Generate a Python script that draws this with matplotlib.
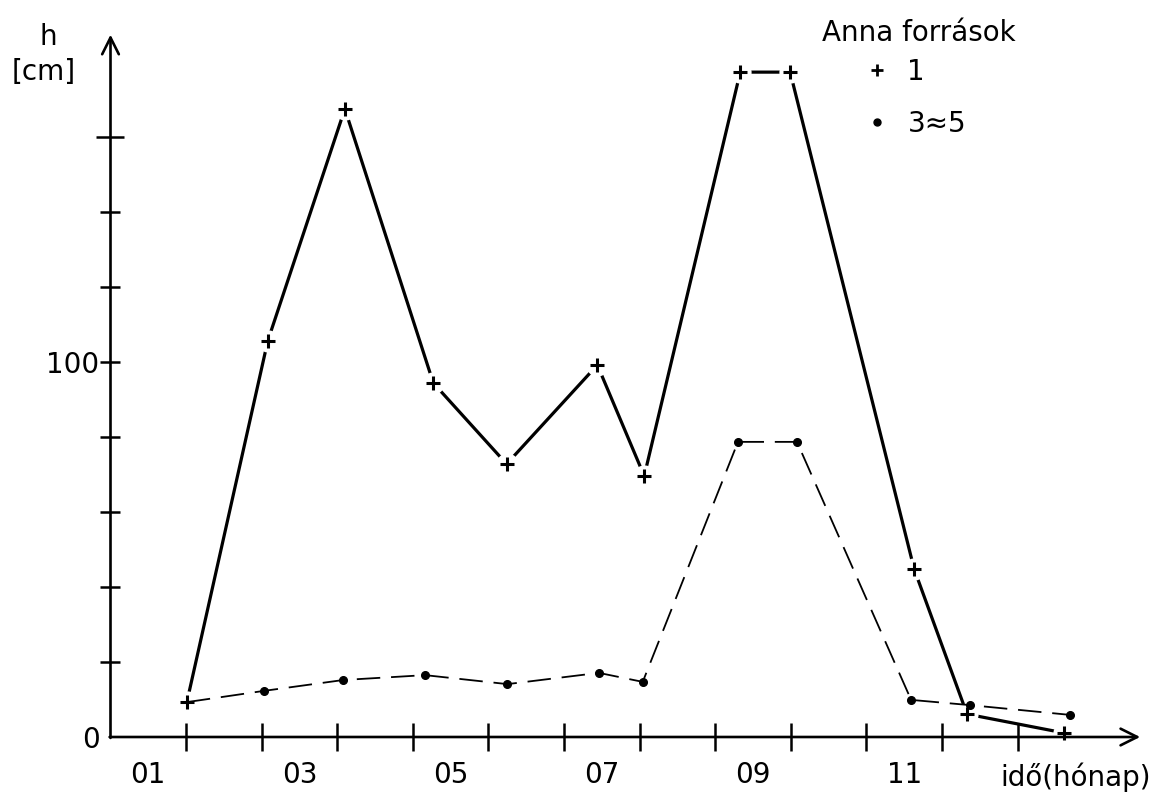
import matplotlib
matplotlib.use("Agg")
import matplotlib.pyplot as plt
from matplotlib.lines import Line2D

# ---- data ----
months_1 = [1.01, 2.08, 3.10, 4.27, 5.24, 6.44, 7.06, 8.33, 8.99, 10.63, 11.33, 12.61]
h_1 = [9.3, 105.6, 167.5, 94.4, 72.8, 99.2, 69.6, 177.3, 177.3, 44.8, 6.1, 1.1]
months_35 = [1.01, 2.03, 3.08, 4.16, 5.25, 6.46, 7.04, 8.30, 9.08, 10.59, 11.37, 12.69]
h_35 = [9.3, 12.3, 15.2, 16.5, 14.1, 17.1, 14.7, 78.7, 78.7, 9.9, 8.5, 5.9]

x_ticks = [1, 2, 3, 4, 5, 6, 7, 8, 9, 10, 11, 12]
x_label_pos = [0.5, 2.5, 4.5, 6.5, 8.5, 10.5]
x_labels = ["01", "03", "05", "07", "09", "11"]
y_ticks = [0, 20, 40, 60, 80, 100, 120, 140, 160]
y_labels = ["0", "", "", "", "", "100", "", "", ""]
series_labels = ["1", "3\u22485"]
legend_title = "Anna források"
x_title = "idő(hónap)"

plt.rcParams['font.family'] = ['DejaVu Sans']

W, H = 1175, 799
fig = plt.figure(figsize=(W / 100, H / 100), dpi=100)
ax = fig.add_axes([0, 0, 1, 1])
ax.patch.set_alpha(0)

x0px, sx = 110.5, 75.6
y0px, sy = 737.0, 3.75
ax.set_xlim(-x0px / sx, (W - x0px) / sx)
ax.set_ylim(-(H - y0px) / sy, y0px / sy)

x_end = 13.62
y_end = 187.3

for s in ["top", "right"]:
    ax.spines[s].set_visible(False)
ax.spines["left"].set_position(("data", 0))
ax.spines["bottom"].set_position(("data", 0))
for s in ["left", "bottom"]:
    ax.spines[s].set_linewidth(0)

# axis lines with arrowheads
ax.annotate("", xy=(0, y_end), xytext=(0, -0.25),
            arrowprops=dict(arrowstyle="->", lw=1.9, color="black", mutation_scale=30,
                            shrinkA=0, shrinkB=0), zorder=5)
ax.annotate("", xy=(x_end, 0), xytext=(-0.012, 0),
            arrowprops=dict(arrowstyle="->", lw=1.9, color="black", mutation_scale=30,
                            shrinkA=0, shrinkB=0), zorder=5)

# y ticks
ax.set_yticks(y_ticks)
ax.set_yticklabels(y_labels)
ax.tick_params(axis="y", direction="inout", length=14, width=1.8, pad=1, labelsize=20)
yt = ax.yaxis.get_major_ticks()
yt[0].tick1line.set_visible(False)
yt[-1].tick1line.set_markersize(20)

# x ticks
ax.set_xticks(x_ticks)
ax.set_xticklabels([""] * len(x_ticks))
ax.set_xticks(x_label_pos, minor=True)
ax.set_xticklabels(x_labels, minor=True)
ax.tick_params(axis="x", which="major", direction="inout", length=20, width=1.8)
ax.tick_params(axis="x", which="minor", length=0, pad=17, labelsize=20)
ax.xaxis.set_zorder(5)
ax.yaxis.set_zorder(5)

# series 1 (solid with gaps at the markers)
ax.plot(months_1, h_1, color="black", lw=2.3, zorder=2.0, solid_capstyle="butt")
ax.plot(months_1, h_1, ls="none", marker="o", ms=16, mfc="white", mec="none", zorder=2.1)
# series 3-5 (dashed)
ax.plot(months_35, h_35, color="black", lw=1.3, dashes=(13, 6), zorder=3.0)
ax.plot(months_35, h_35, ls="none", marker="o", ms=5.5, color="black",
        markevery=list(range(1, len(months_35))), zorder=3.1)
ax.plot(months_1, h_1, ls="none", marker="+", ms=10, mew=2.2, color="black", zorder=3.2)

# titles
fig.text(48 / W, 1 - 37 / H, "h", ha="center", va="center", fontsize=20)
fig.text(44 / W, 1 - 72 / H, "[cm]", ha="center", va="center", fontsize=20)
fig.text(1076 / W, 1 - 777 / H, x_title, ha="center", va="center", fontsize=20)
fig.text(822 / W, 1 - 33 / H, legend_title, ha="left", va="center", fontsize=20)

handles = [Line2D([], [], marker="+", ls="none", color="black", ms=9, mew=2),
           Line2D([], [], marker="o", ls="none", color="black", ms=5)]
leg = fig.legend(handles, series_labels, loc="upper left",
                 bbox_to_anchor=(863 / W, 1 - 58 / H), bbox_transform=fig.transFigure,
                 frameon=False, fontsize=20, handlelength=1.0, handletextpad=0.6,
                 labelspacing=0.85, borderpad=0, borderaxespad=0)

fig.savefig("out.png", dpi=100)
